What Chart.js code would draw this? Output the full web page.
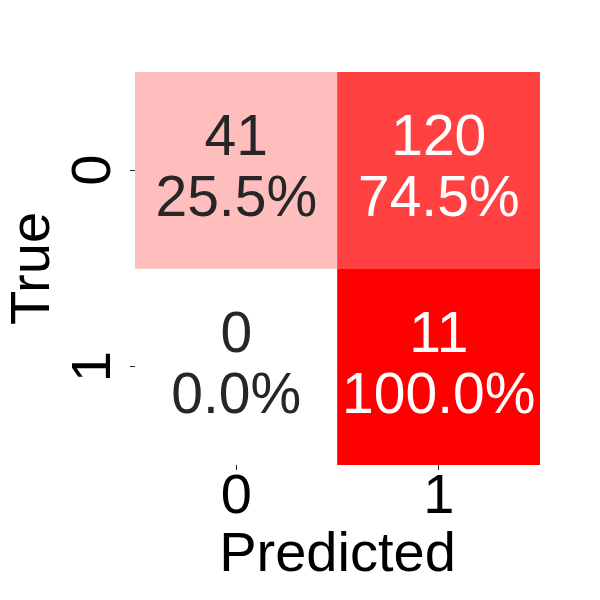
<!DOCTYPE html>
<html>
<head>
<meta charset="utf-8">
<script src="https://cdn.jsdelivr.net/npm/chart.js@4/dist/chart.umd.min.js"></script>
<style>
  html, body { margin: 0; padding: 0; background: #fff; }
  #wrap { width: 600px; height: 600px; }
</style>
</head>
<body>
<div id="wrap"><canvas id="confusion-matrix" width="600" height="600"></canvas></div>
<script>
// Confusion matrix: rows = true class, columns = predicted class
const classLabels = ['0', '1'];
const countsTrue0 = [41, 120];
const countsTrue1 = [0, 11];
const pctTrue0 = [25.5, 74.5];
const pctTrue1 = [0.0, 100.0];

const counts = [countsTrue0, countsTrue1];
const percents = [pctTrue0, pctTrue1];

const FONT = "'Liberation Sans', Arial, Helvetica, sans-serif";
const DARK = '#262626';

// white -> red by row share
const cellColor = (p) => {
  const gb = Math.round(255 * (1 - p / 100));
  return `rgb(255, ${gb}, ${gb})`;
};

const cellText = {
  id: 'cellText',
  afterDatasetsDraw(chart) {
    const { ctx } = chart;
    ctx.save();
    ctx.font = `57px ${FONT}`;
    ctx.textAlign = 'center';
    ctx.textBaseline = 'alphabetic';
    chart.data.datasets.forEach((ds, i) => {
      chart.getDatasetMeta(i).data.forEach((bar, j) => {
        const { x, y, base } = bar.getProps(['x', 'y', 'base'], true);
        const cy = (y + base) / 2;
        const p = percents[i][j];
        ctx.fillStyle = p > 50 ? '#ffffff' : DARK;
        ctx.fillText(String(counts[i][j]), x, cy - 15);
        ctx.fillText(p.toFixed(1) + '%', x, cy + 46);
      });
    });
    ctx.restore();
  }
};

const datasets = counts.map((row, i) => ({
  label: 'True ' + classLabels[i],
  data: row.map(() => [i, i + 1]),
  backgroundColor: percents[i].map(cellColor),
  borderWidth: 0,
  barPercentage: 1,
  categoryPercentage: 1,
  grouped: false
}));

try {
  new Chart(document.getElementById('confusion-matrix'), {
    type: 'bar',
    data: { labels: classLabels, datasets },
    options: {
      responsive: false,
      devicePixelRatio: 1,
      animation: false,
      layout: { padding: { top: 72, right: 60, left: 0, bottom: 0 } },
      plugins: {
        legend: { display: false },
        tooltip: { enabled: false }
      },
      scales: {
        x: {
          type: 'category',
          offset: true,
          afterFit: (scale) => { scale.height = 135; },
          grid: {
            offset: false,
            drawOnChartArea: false,
            drawTicks: true,
            tickLength: 5,
            tickColor: DARK,
            tickWidth: 1
          },
          border: { display: false },
          ticks: {
            color: '#000',
            padding: 0,
            font: { family: FONT, size: 56, lineHeight: 1 }
          },
          title: {
            display: true,
            text: 'Predicted',
            color: '#000',
            padding: { top: 0, bottom: 11 },
            font: { family: FONT, size: 56, lineHeight: 1.2 }
          }
        },
        y: {
          type: 'linear',
          min: 0,
          max: 2,
          reverse: true,
          afterFit: (scale) => { scale.width = 135; },
          afterBuildTicks: (scale) => {
            scale.ticks = classLabels.map((_, i) => ({ value: i + 0.5 }));
          },
          grid: {
            drawOnChartArea: false,
            drawTicks: true,
            tickLength: 5,
            tickColor: DARK,
            tickWidth: 1
          },
          border: { display: false },
          ticks: {
            color: '#000',
            minRotation: 90,
            maxRotation: 90,
            crossAlign: 'center',
            padding: 20,
            font: { family: FONT, size: 56, lineHeight: 1 },
            callback: (value) => classLabels[Math.floor(value)]
          },
          title: {
            display: true,
            text: 'True',
            color: '#000',
            padding: { top: 0, bottom: 0 },
            font: { family: FONT, size: 56, lineHeight: 1.2 }
          }
        }
      }
    },
    plugins: [cellText]
  });
} catch (error) {
  console.error('Error creating confusion matrix:', error);
}
</script>
</body>
</html>
